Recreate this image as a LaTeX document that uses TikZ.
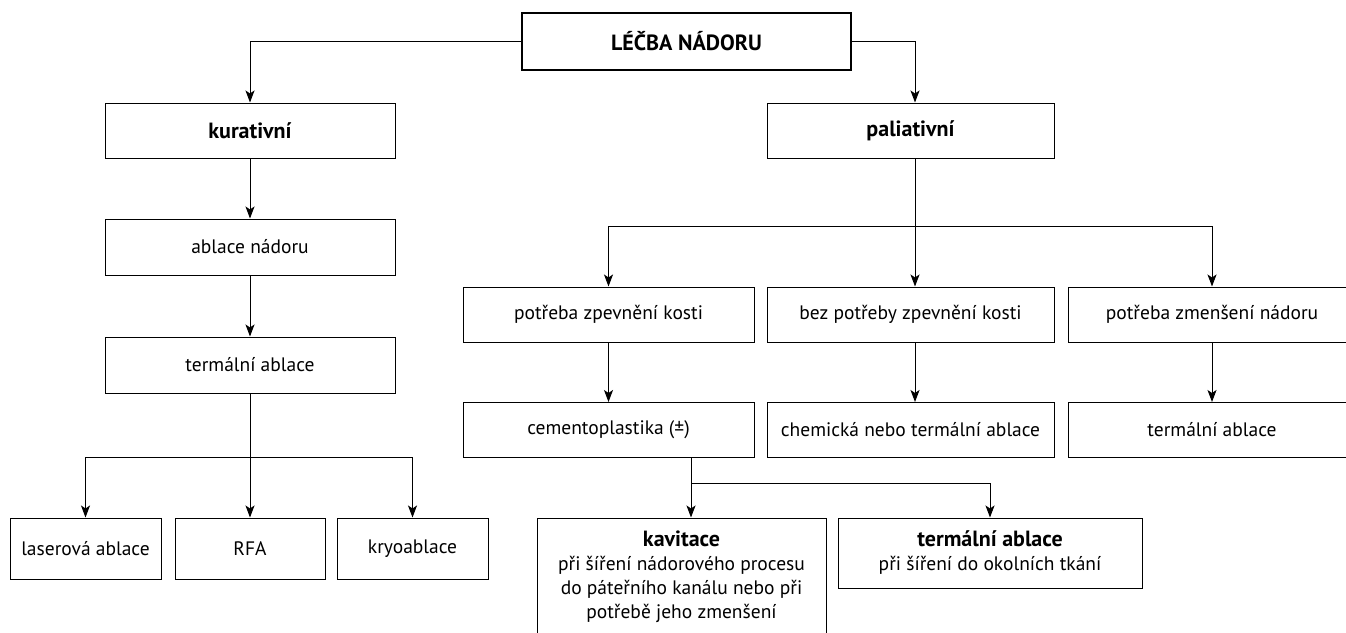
\documentclass[tikz,border=0pt]{standalone}
\usepackage{fontspec}
\setmainfont{PT Sans}
\usetikzlibrary{arrows.meta,calc}
\begin{document}
\begin{tikzpicture}[x=1pt,y=-1pt,
  box/.style={draw,line width=1pt,inner sep=0pt,align=center,
    font=\fontsize{19.5}{24}\selectfont},
  bbox/.style={box,font=\fontsize{22}{24}\selectfont\bfseries},
  conn/.style={line width=1pt,-{Stealth[length=12pt,width=9pt,inset=3pt]}}]
\useasboundingbox[fill=white] (0,0) rectangle (1346,632);

\node[bbox,line width=2pt,minimum width=329,minimum height=57] (top) at (686.5,41.5) {LÉČBA NÁDORU};

\node[bbox,minimum width=290,minimum height=55] (kur) at (250,130.5) {kurativní};
\node[bbox,minimum width=287,minimum height=55] (pal) at (910.5,130.5) {paliativní};

\node[box,minimum width=290,minimum height=56] (abl) at (250,247) {ablace nádoru};
\node[box,minimum width=290,minimum height=56] (term) at (250,365) {termální ablace};

\node[box,minimum width=151,minimum height=61] (laser) at (85.5,548.5) {laserová ablace};
\node[box,minimum width=150,minimum height=61] (rfa) at (250,548.5) {RFA};
\node[box,minimum width=151,minimum height=61] (kryo) at (412.5,548.5) {kryoablace};

\node[box,minimum width=291,minimum height=55] (z1) at (608.5,314.5) {potřeba zpevnění kosti};
\node[box,minimum width=287,minimum height=55] (z2) at (910.5,314.5) {bez potřeby zpevnění kosti};
\node[box,minimum width=288,minimum height=55] (z3) at (1212,314.5) {potřeba zmenšení nádoru};

\node[box,minimum width=291,minimum height=55] (c1) at (608.5,430) {cementoplastika (±)};
\node[box,minimum width=287,minimum height=55] (c2) at (910.5,430) {chemická nebo termální ablace};
\node[box,minimum width=288,minimum height=55] (c3) at (1212,430) {termální ablace};

\node[box,minimum width=289,minimum height=118] (kav) at (681.5,577) {{\fontsize{22}{24}\selectfont\bfseries kavitace}\\při šíření nádorového procesu\\do páteřního kanálu nebo při\\potřebě jeho zmenšení};
\node[box,minimum width=304,minimum height=70] (ta) at (990,553) {{\fontsize{22}{24}\selectfont\bfseries termální ablace}\\při šíření do okolních tkání};

\coordinate (px) at (915,0);
\coordinate (hj) at (0,226);
\coordinate (lj) at (0,457);
\coordinate (cx) at (691,0);
\coordinate (kj) at (0,483);

\draw[conn] (top.west) -| (kur.north);
\draw[conn] (top.east) -| (px |- pal.north);

\draw[conn] (kur) -- (abl);
\draw[conn] (abl) -- (term);
\draw[conn] (term.south) -- (rfa.north);
\draw[conn] (term.south |- lj) -| (laser.north);
\draw[conn] (term.south |- lj) -| (kryo.north);

\draw[conn] (px |- pal.south) -- (px |- z2.north);
\draw[conn] (px |- hj) -| (z1.north);
\draw[conn] (px |- hj) -| (z3.north);

\draw[conn] (z1) -- (c1);
\draw[conn] (px |- z2.south) -- (px |- c2.north);
\draw[conn] (z3) -- (c3);

\draw[conn] (cx |- c1.south) -- (cx |- kav.north);
\draw[conn] (cx |- kj) -| (ta.north);
\end{tikzpicture}
\end{document}
